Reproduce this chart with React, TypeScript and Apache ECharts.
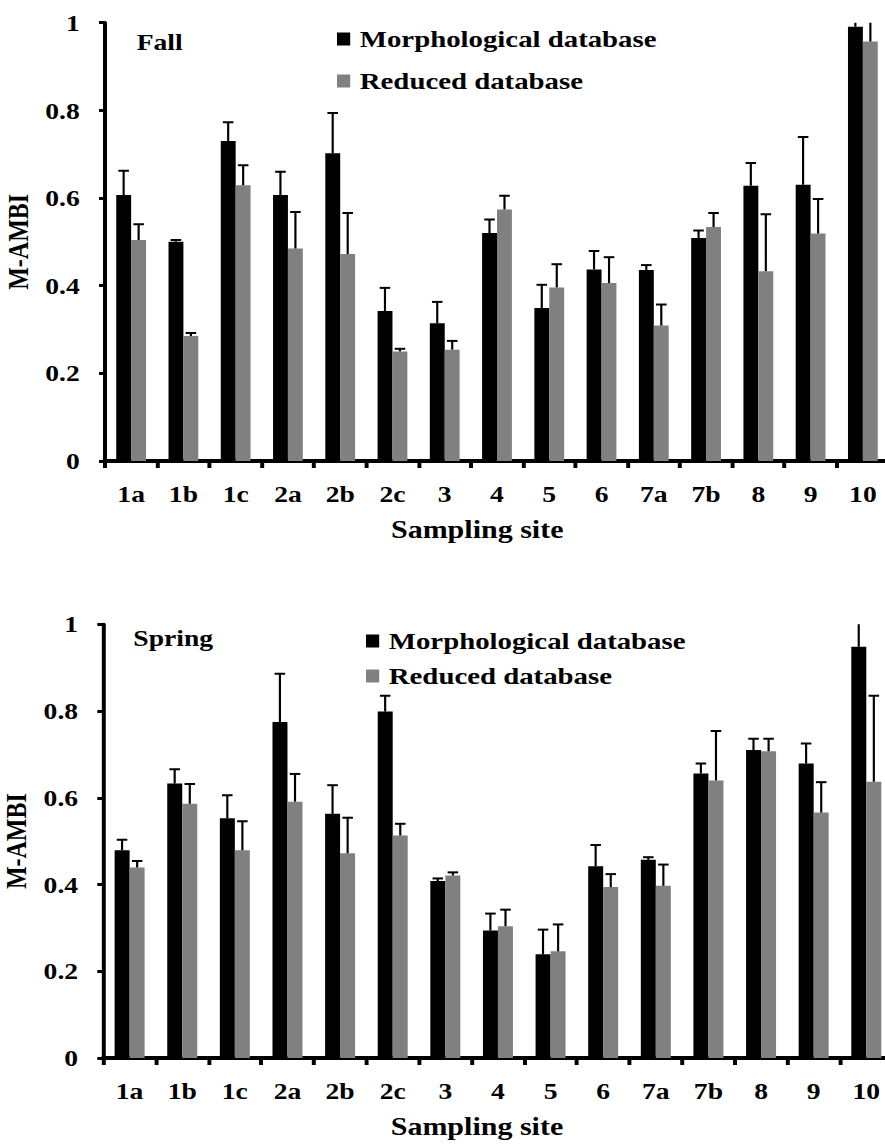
import React, { useEffect, useRef } from "react";
import * as echarts from "echarts";

// ---------- data ----------
const sites = ["1a", "1b", "1c", "2a", "2b", "2c", "3", "4", "5", "6", "7a", "7b", "8", "9", "10"];
const seriesNames = ["Morphological database", "Reduced database"];
const yTicks = [0, 0.2, 0.4, 0.6, 0.8, 1];

const fallMorph = [0.607, 0.5, 0.73, 0.607, 0.702, 0.342, 0.314, 0.52, 0.349, 0.437, 0.436, 0.509, 0.628, 0.63, 0.991];
const fallMorphSd = [0.055, 0.004, 0.043, 0.053, 0.092, 0.053, 0.049, 0.031, 0.053, 0.042, 0.011, 0.017, 0.052, 0.109, 0.04];
const fallReduced = [0.504, 0.285, 0.629, 0.485, 0.472, 0.25, 0.254, 0.574, 0.396, 0.406, 0.309, 0.534, 0.433, 0.519, 0.957];
const fallReducedSd = [0.036, 0.007, 0.046, 0.083, 0.094, 0.006, 0.02, 0.031, 0.053, 0.059, 0.048, 0.032, 0.13, 0.079, 0.06];

const springMorph = [0.479, 0.633, 0.553, 0.775, 0.563, 0.799, 0.408, 0.294, 0.239, 0.442, 0.457, 0.656, 0.71, 0.679, 0.948];
const springMorphSd = [0.024, 0.033, 0.053, 0.111, 0.066, 0.036, 0.006, 0.039, 0.057, 0.049, 0.006, 0.023, 0.026, 0.046, 0.08];
const springReduced = [0.439, 0.586, 0.479, 0.591, 0.472, 0.513, 0.421, 0.304, 0.246, 0.394, 0.397, 0.64, 0.707, 0.566, 0.637];
const springReducedSd = [0.015, 0.046, 0.067, 0.064, 0.082, 0.027, 0.007, 0.038, 0.062, 0.03, 0.049, 0.114, 0.029, 0.07, 0.198];

// ---------- layout ----------
const S = 1.2; // horizontal stretch of the reference picture
const FONT = "Liberation Serif, serif";
const BLACK = "#000000";
const GRAY = "#808080";

function errorSeries(axis: number, mean: number[], sd: number[], side: number) {
  return {
    type: "custom",
    xAxisIndex: axis,
    yAxisIndex: axis,
    clip: true,
    z: 5,
    encode: { x: 0, y: 2 },
    data: mean.map((m, i) => [i, m, m + sd[i]]),
    renderItem: (params: any, api: any) => {
      const i = api.value(0);
      const band = api.size([1, 0])[0];
      const base = api.coord([i, api.value(1)]);
      const top = api.coord([i, api.value(2)]);
      const x = base[0] + side * band * 0.1435;
      const cw = 4.4;
      return {
        type: "group",
        children: [
          { type: "line", shape: { x1: x, y1: base[1], x2: x, y2: top[1] }, style: { stroke: "#000", lineWidth: 1.8 } },
          { type: "line", shape: { x1: x - cw, y1: top[1], x2: x + cw, y2: top[1] }, style: { stroke: "#000", lineWidth: 2 } },
        ],
      };
    },
  };
}

function barSeries(axis: number, name: string, data: number[], color: string) {
  return {
    type: "bar",
    name,
    xAxisIndex: axis,
    yAxisIndex: axis,
    data,
    barGap: "0%",
    barCategoryGap: "43%",
    itemStyle: { color },
    z: 2,
  };
}

function xAxis(grid: number, padRight: number) {
  return {
    type: "category",
    gridIndex: grid,
    data: sites,
    axisLine: { show: true, lineStyle: { color: "#000", width: 4 } },
    axisTick: { show: true, length: 7, lineStyle: { color: "#000", width: 3.3 } },
    axisLabel: { color: "#000", fontFamily: FONT, fontWeight: "bold", fontSize: 23, margin: 21 },
    name: "Sampling site",
    nameLocation: "middle",
    nameGap: 56,
    nameTextStyle: { color: "#000", fontFamily: FONT, fontWeight: "bold", fontSize: 25, padding: [0, padRight, 0, 0] },
  };
}

function yAxis(grid: number) {
  return {
    type: "value",
    gridIndex: grid,
    min: yTicks[0],
    max: yTicks[yTicks.length - 1],
    interval: 0.2,
    splitLine: { show: false },
    axisLine: { show: true, lineStyle: { color: "#000", width: 3.3 } },
    axisTick: { show: true, length: 5, lineStyle: { color: "#000", width: 3 } },
    axisLabel: { color: "#000", fontFamily: FONT, fontWeight: "bold", fontSize: 23, margin: 21 },
    name: "M-AMBI",
    nameLocation: "middle",
    nameRotate: 90,
    nameGap: 56,
    nameTextStyle: { color: "#000", fontFamily: FONT, fontWeight: "bold", fontSize: 24 },
  };
}

function legend(left: number, top: number, gap: number) {
  return {
    orient: "vertical",
    left,
    top,
    padding: 0,
    itemGap: gap,
    itemWidth: 11,
    itemHeight: 13,
    icon: "rect",
    data: seriesNames,
    textStyle: { color: "#000", fontFamily: FONT, fontWeight: "bold", fontSize: 24, padding: [0, 0, 0, 3] },
  };
}

const titleStyle = { color: "#000", fontFamily: FONT, fontWeight: "bold", fontSize: 23 };

export default function App() {
  const ref = useRef<HTMLDivElement>(null);
  useEffect(() => {
    if (!ref.current) return;
    const chart = echarts.init(ref.current, null, { renderer: "svg" });
    chart.setOption({
      animation: false,
      backgroundColor: "#fff",
      title: [
        { text: "Fall", left: 136.7 / S, top: 30, padding: 0, textStyle: titleStyle },
        { text: "Spring", left: 133.3 / S, top: 626, padding: 0, textStyle: titleStyle },
      ],
      legend: [legend(337 / S, 27, 18), legend(366 / S, 629, 11)],
      grid: [
        { left: 105 / S, top: 22.7, width: (889 - 105) / S, height: 461 - 22.7, outerBoundsMode: "none", containLabel: false },
        { left: 103.3 / S, top: 624.3, width: (892.6 - 103.3) / S, height: 1058 - 624.3, outerBoundsMode: "none", containLabel: false },
      ],
      xAxis: [xAxis(0, 33), xAxis(1, 35)],
      yAxis: [yAxis(0), yAxis(1)],
      series: [
        barSeries(0, seriesNames[0], fallMorph, BLACK),
        barSeries(0, seriesNames[1], fallReduced, GRAY),
        errorSeries(0, fallMorph, fallMorphSd, -1),
        errorSeries(0, fallReduced, fallReducedSd, 1),
        barSeries(1, seriesNames[0], springMorph, BLACK),
        barSeries(1, seriesNames[1], springReduced, GRAY),
        errorSeries(1, springMorph, springMorphSd, -1),
        errorSeries(1, springReduced, springReducedSd, 1),
      ],
    });
    return () => chart.dispose();
  }, []);
  return (
    <div style={{ position: "fixed", left: 0, top: 0, width: 885, height: 1147, overflow: "hidden", background: "#fff" }}>
      <div
        ref={ref}
        style={{ width: 900 / S, height: 1147, transform: `scaleX(${S})`, transformOrigin: "0 0" }}
      />
    </div>
  );
}
